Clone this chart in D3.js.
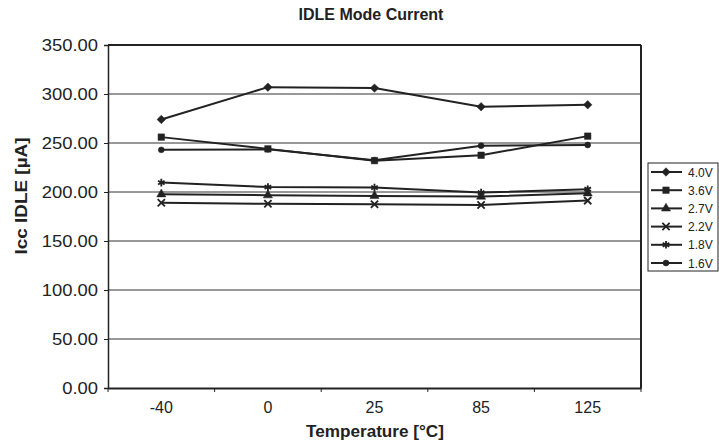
<!DOCTYPE html>
<html>
<head>
<meta charset="utf-8">
<script src="https://cdn.jsdelivr.net/npm/d3@7"></script>
<style>
  body { margin: 0; background: #fff; }
  text { font-family: "Liberation Sans", Arial, sans-serif; fill: #222; }
</style>
</head>
<body>
<div id="chart"></div>
<script>
// temperatures on the x axis
const temps = ["-40", "0", "25", "85", "125"];
const seriesNames = ["4.0V", "3.6V", "2.7V", "2.2V", "1.8V", "1.6V"];
// Icc IDLE in uA
const v40 = [274, 307, 306, 287, 289];
const v36 = [256, 244, 232, 237.5, 257];
const v27 = [197.7, 196.7, 196, 195.3, 198.7];
const v22 = [189, 188, 187.5, 186.8, 191.2];
const v18 = [209.6, 205, 204.5, 199.4, 202.8];
const v16 = [243, 243.5, 232.5, 247.3, 248];
const yTicks = [0, 50, 100, 150, 200, 250, 300, 350];

const allValues = [v40, v36, v27, v22, v18, v16];

const width = 719, height = 448;
const plotLeft = 108, plotRight = 641, plotTop = 45, plotBottom = 388;

const svg = d3.select("#chart").append("svg")
  .attr("width", width)
  .attr("height", height);

const x = d3.scaleBand().domain(temps).range([plotLeft, plotRight]);
const y = d3.scaleLinear().domain([0, 350]).range([plotBottom, plotTop]);

// stretch text a bit, the original font runs wider than Arial
function widen(sel, k) {
  sel.each(function () {
    const len = this.getComputedTextLength();
    d3.select(this).attr("textLength", len * k).attr("lengthAdjust", "spacingAndGlyphs");
  });
}

// gridlines
svg.append("g")
  .selectAll("line")
  .data(yTicks.slice(1, -1))
  .enter().append("line")
  .attr("x1", plotLeft).attr("x2", plotRight)
  .attr("y1", d => y(d)).attr("y2", d => y(d))
  .attr("stroke", "#333").attr("stroke-width", 1);

// plot frame
svg.append("line").attr("x1", plotLeft).attr("x2", plotRight).attr("y1", plotTop).attr("y2", plotTop)
  .attr("stroke", "#222").attr("stroke-width", 2);
svg.append("line").attr("x1", plotRight).attr("x2", plotRight).attr("y1", plotTop).attr("y2", plotBottom)
  .attr("stroke", "#222").attr("stroke-width", 2);

// y axis
const yAxis = svg.append("g")
  .attr("transform", `translate(${plotLeft},0)`)
  .call(d3.axisLeft(y).tickValues(yTicks).tickFormat(d3.format(".2f")).tickSize(4).tickPadding(6));
yAxis.select(".domain").attr("stroke", "#222").attr("stroke-width", 1.5);
yAxis.selectAll(".tick line").attr("stroke", "#222");
yAxis.selectAll("text").attr("font-size", 16).attr("font-family", null).attr("fill", "#222")
  .call(widen, 1.15);

// x axis: ticks sit on the band edges
const xAxis = svg.append("g")
  .attr("transform", `translate(0,${plotBottom})`)
  .call(d3.axisBottom(x).tickSize(0).tickPadding(14));
xAxis.select(".domain").attr("stroke", "#222").attr("stroke-width", 2);
xAxis.selectAll("text").attr("font-size", 16).attr("font-family", null).attr("fill", "#222");
xAxis.selectAll(".edge")
  .data(d3.range(temps.length + 1))
  .enter().append("line")
  .attr("x1", i => plotLeft + i * x.bandwidth()).attr("x2", i => plotLeft + i * x.bandwidth())
  .attr("y1", 0).attr("y2", 4)
  .attr("stroke", "#222");

// titles
svg.append("text")
  .attr("x", 371).attr("y", 20)
  .attr("text-anchor", "middle")
  .attr("font-size", 16).attr("font-weight", "bold")
  .text("IDLE Mode Current");

svg.append("text")
  .attr("x", 375).attr("y", 437)
  .attr("text-anchor", "middle")
  .attr("font-size", 16).attr("font-weight", "bold")
  .text("Temperature [°C]")
  .call(widen, 1.07);

svg.append("text")
  .attr("transform", "translate(27,196) rotate(-90)")
  .attr("text-anchor", "middle")
  .attr("font-size", 16).attr("font-weight", "bold")
  .text("Icc IDLE [µA]")
  .call(widen, 1.18);

// markers
const shapes = [
  { type: d3.symbolSquare, size: 36, rotate: 45, fill: true },
  { type: d3.symbolSquare, size: 42, rotate: 0, fill: true },
  { type: d3.symbolTriangle, size: 36, rotate: 0, fill: true },
  { type: d3.symbolTimes, size: 36, rotate: 0, fill: false },
  { type: d3.symbolAsterisk, size: 40, rotate: 0, fill: false },
  { type: d3.symbolCircle, size: 28, rotate: 0, fill: true }
];

function drawMarker(g, s) {
  g.append("path")
    .attr("d", d3.symbol().type(s.type).size(s.size)())
    .attr("transform", `rotate(${s.rotate})`)
    .attr("fill", s.fill ? "#222" : "none")
    .attr("stroke", "#222")
    .attr("stroke-width", s.fill ? 0.5 : 1.8);
}

const line = d3.line()
  .x((d, i) => x(temps[i]) + x.bandwidth() / 2)
  .y(d => y(d));

allValues.forEach((vals, si) => {
  svg.append("path")
    .datum(vals)
    .attr("d", line)
    .attr("fill", "none")
    .attr("stroke", "#222")
    .attr("stroke-width", 2);
  svg.append("g")
    .selectAll("g")
    .data(vals)
    .enter().append("g")
    .attr("transform", (d, i) => `translate(${x(temps[i]) + x.bandwidth() / 2},${y(d)})`)
    .each(function () { drawMarker(d3.select(this), shapes[si]); });
});

// legend
const legend = svg.append("g");
legend.append("rect")
  .attr("x", 648).attr("y", 163)
  .attr("width", 70).attr("height", 108)
  .attr("fill", "#fff").attr("stroke", "#222").attr("stroke-width", 1);

seriesNames.forEach((name, i) => {
  const ly = 172 + i * 18.2;
  legend.append("line")
    .attr("x1", 651).attr("x2", 682).attr("y1", ly).attr("y2", ly)
    .attr("stroke", "#222").attr("stroke-width", 2);
  drawMarker(legend.append("g").attr("transform", `translate(666,${ly})`), shapes[i]);
  legend.append("text")
    .attr("x", 688).attr("y", ly + 4.5)
    .attr("font-size", 12)
    .text(name);
});
</script>
</body>
</html>
